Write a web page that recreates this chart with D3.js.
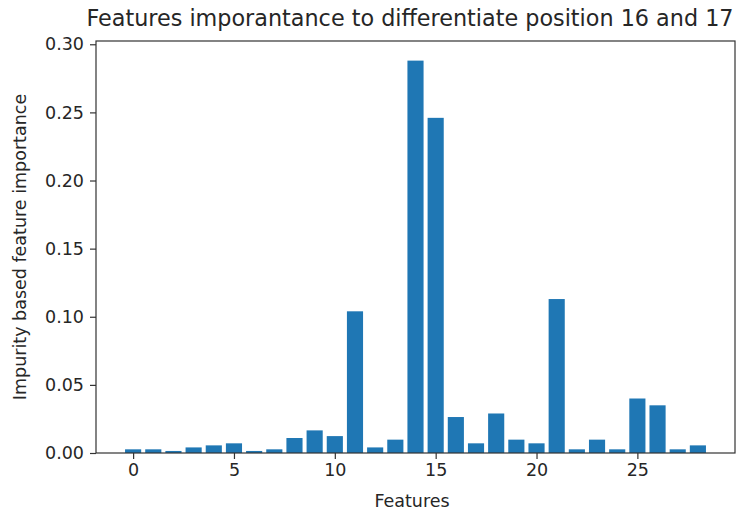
<!DOCTYPE html>
<html>
<head>
<meta charset="utf-8">
<script src="https://cdn.jsdelivr.net/npm/d3@7"></script>
<style>
  body { margin: 0; background: #fff; }
  svg text { font-family: "DejaVu Sans", sans-serif; fill: #262626; }
</style>
</head>
<body>
<svg id="svg"></svg>
<script>
const width = 746;
const height = 513;
const margin = { top: 41, right: 11, bottom: 60, left: 96 };

// feature index and importance
const features = d3.range(29);
const importance = [
  0.0027, 0.0027, 0.0015, 0.0041, 0.0056, 0.0071, 0.0015, 0.0027, 0.0110, 0.0166,
  0.0124, 0.1040, 0.0041, 0.0098, 0.2880, 0.2460, 0.0264, 0.0071, 0.0290, 0.0098,
  0.0071, 0.1130, 0.0027, 0.0098, 0.0027, 0.0400, 0.0350, 0.0027, 0.0056
];
const xTicks = [0, 5, 10, 15, 20, 25];
const yTicks = [0, 0.05, 0.10, 0.15, 0.20, 0.25, 0.30];

const svg = d3.select("#svg")
    .attr("width", width)
    .attr("height", height);

// matplotlib style limits: bars are 0.8 wide, 5% padding
const xScale = d3.scaleLinear()
    .domain([-0.4 - 1.44, 28.4 + 1.44])
    .range([margin.left, width - margin.right]);

const yScale = d3.scaleLinear()
    .domain([0, d3.max(importance) * 1.05])
    .range([height - margin.bottom, margin.top]);

svg.append("g")
    .attr("fill", "#1f77b4")
    .selectAll("rect")
    .data(features)
    .enter()
    .append("rect")
        .attr("x", d => xScale(d - 0.4))
        .attr("y", d => yScale(importance[d]))
        .attr("width", xScale(0.8) - xScale(0))
        .attr("height", d => yScale(0) - yScale(importance[d]));

const xAxis = svg.append("g")
    .attr("transform", `translate(0, ${height - margin.bottom})`)
    .call(d3.axisBottom(xScale).tickValues(xTicks).tickFormat(d3.format("d")).tickSize(6).tickPadding(5));

const yAxis = svg.append("g")
    .attr("transform", `translate(${margin.left}, 0)`)
    .call(d3.axisLeft(yScale).tickValues(yTicks).tickFormat(d3.format(".2f")).tickSize(6).tickPadding(6));

[xAxis, yAxis].forEach(g => {
    g.select(".domain").remove();
    g.selectAll("line").attr("stroke", "#333").attr("stroke-width", 1.2);
    g.selectAll("text").attr("font-size", "17.5px").style("fill", "#262626");
});

// frame
svg.append("rect")
    .attr("x", margin.left)
    .attr("y", margin.top)
    .attr("width", width - margin.left - margin.right)
    .attr("height", height - margin.top - margin.bottom)
    .attr("fill", "none")
    .attr("stroke", "#333")
    .attr("stroke-width", 1.2);

svg.append("text")
    .text("Features imporantance to differentiate position 16 and 17")
    .attr("x", 410)
    .attr("y", 26)
    .attr("text-anchor", "middle")
    .attr("font-size", "22.3px");

svg.append("text")
    .text("Features")
    .attr("x", 412)
    .attr("y", 507)
    .attr("text-anchor", "middle")
    .attr("font-size", "17.5px");

svg.append("text")
    .text("Impurity based feature importance")
    .attr("transform", "rotate(-90)")
    .attr("x", -((margin.top + height - margin.bottom) / 2))
    .attr("y", 26)
    .attr("text-anchor", "middle")
    .attr("font-size", "17.5px");
</script>
</body>
</html>
